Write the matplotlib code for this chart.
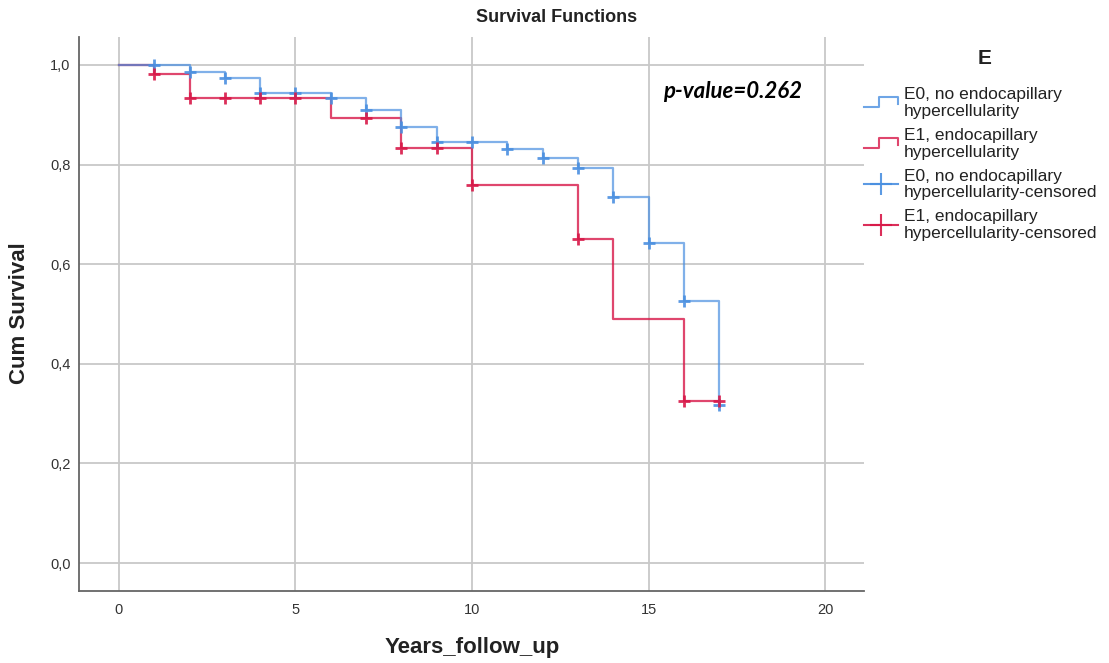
import matplotlib
matplotlib.use("Agg")
import matplotlib.pyplot as plt
from matplotlib.lines import Line2D
from matplotlib.legend_handler import HandlerBase

# ---- data ----
e0_times = [0, 2, 3, 4, 6, 7, 8, 9, 11, 12, 13, 14, 15, 16, 17]
e0_surv = [1.0, 0.986, 0.974, 0.944, 0.933, 0.910, 0.876, 0.846, 0.831, 0.813, 0.793, 0.734, 0.643, 0.526, 0.317]
e0_cens_t = [1, 2, 3, 4, 5, 6, 7, 8, 9, 10, 11, 12, 13, 14, 15, 16, 17]
e0_cens_s = [1.0, 0.986, 0.974, 0.944, 0.944, 0.933, 0.910, 0.876, 0.846, 0.846, 0.831, 0.813, 0.793, 0.734, 0.643, 0.526, 0.317]

e1_times = [0, 1, 2, 6, 8, 10, 13, 14, 16, 17]
e1_surv = [1.0, 0.981, 0.934, 0.894, 0.834, 0.758, 0.651, 0.489, 0.325, 0.325]
e1_cens_t = [1, 2, 3, 4, 5, 7, 8, 9, 10, 13, 16, 17]
e1_cens_s = [0.981, 0.934, 0.934, 0.934, 0.934, 0.894, 0.834, 0.834, 0.758, 0.651, 0.325, 0.325]

labels = ["E0, no endocapillary\nhypercellularity",
          "E1, endocapillary\nhypercellularity",
          "E0, no endocapillary\nhypercellularity-censored",
          "E1, endocapillary\nhypercellularity-censored"]
x_ticks = [0, 5, 10, 15, 20]
y_ticks = [0.0, 0.2, 0.4, 0.6, 0.8, 1.0]
y_tick_labels = ["0,0", "0,2", "0,4", "0,6", "0,8", "1,0"]
p_text = "p-value=0.262"

BLUE = "#4a8fe0"
RED = "#d81848"
FONT = "Liberation Sans"
plt.rcParams["font.family"] = [FONT, "DejaVu Sans"]

fig = plt.figure(figsize=(11.09, 6.63), dpi=100)
ax = fig.add_axes([79/1109, 1 - 591/663, (864-79)/1109, (591-37)/663])

ax.step(e1_times, e1_surv, where="post", color=RED, lw=1.6, alpha=0.8, zorder=3)
ax.step(e0_times, e0_surv, where="post", color=BLUE, lw=1.6, alpha=0.7, zorder=3)
ax.plot(e0_cens_t, e0_cens_s, ls="none", marker="+", ms=9, mew=2, color=BLUE, alpha=0.9, zorder=4)
ax.plot(e1_cens_t, e1_cens_s, ls="none", marker="+", ms=9, mew=2, color=RED, alpha=0.9, zorder=4)

ax.set_xlim(-1.13, 21.1)
ax.set_ylim(-0.056, 1.056)
ax.set_xticks(x_ticks)
ax.set_yticks(y_ticks)
ax.set_yticklabels(y_tick_labels)
ax.grid(True, color="#c8c8c8", lw=1.3)
ax.set_axisbelow(True)
for s in ["top", "right"]:
    ax.spines[s].set_visible(False)
for s in ["left", "bottom"]:
    ax.spines[s].set_color("#666666")
    ax.spines[s].set_linewidth(1.3)
ax.tick_params(axis="both", length=0, labelsize=10.5, colors="#333333")
ax.tick_params(axis="y", pad=6)
ax.tick_params(axis="x", pad=9)

ax.text(15.41, 0.946, p_text, fontsize=16, fontweight="bold", style="italic",
        family=["Lato", "DejaVu Sans"], va="center", ha="left", color="black")

fig.text(557/1109, 1 - 18/663, "Survival Functions", fontsize=13, fontweight="bold",
         ha="center", va="center", color="#222222")
fig.text(20/1109, 1 - 313/663, "Cum Survival", fontsize=16, fontweight="bold",
         rotation=90, ha="center", va="center", color="#222222")
fig.text(472/1109, 1 - 648/663, "Years_follow_up", fontsize=16, fontweight="bold",
         ha="center", va="center", color="#222222")
fig.text(985/1109, 1 - 58/663, "E", fontsize=15, fontweight="bold",
         ha="center", va="center", color="#222222")


class StepHandler(HandlerBase):
    def create_artists(self, legend, orig_handle, xdescent, ydescent, width, height, fontsize, trans):
        x0 = -xdescent
        y0 = -ydescent
        yc = y0 + height / 2
        xs = [x0, x0 + width * 0.45, x0 + width * 0.45, x0 + width, x0 + width]
        ys = [yc - 3, yc - 3, yc + 4, yc + 4, yc - 1]
        ln = Line2D(xs, ys, color=orig_handle.get_color(), lw=1.5, alpha=orig_handle.get_alpha())
        ln.set_transform(trans)
        return [ln]


class StepLine(Line2D):
    pass


h0 = StepLine([], [], color=BLUE, alpha=0.8)
h1 = StepLine([], [], color=RED, alpha=0.8)
h2 = Line2D([], [], color=BLUE, lw=1.5, marker="+", ms=16, mew=1.5, alpha=0.9)
h3 = Line2D([], [], color=RED, lw=1.5, marker="+", ms=16, mew=1.5, alpha=0.9)

leg = fig.legend([h0, h1, h2, h3], labels, loc="upper left",
                 bbox_to_anchor=(864/1109, 1 - 87/663), frameon=False,
                 handlelength=1.95, handletextpad=0.35,
                 labelspacing=0.52, numpoints=1, borderaxespad=0, borderpad=0,
                 handler_map={StepLine: StepHandler()},
                 prop={"size": 12.5})
for t in leg.get_texts():
    t.set_linespacing(1.15)
    t.set_color("#222222")

fig.savefig("out.png", dpi=100)
